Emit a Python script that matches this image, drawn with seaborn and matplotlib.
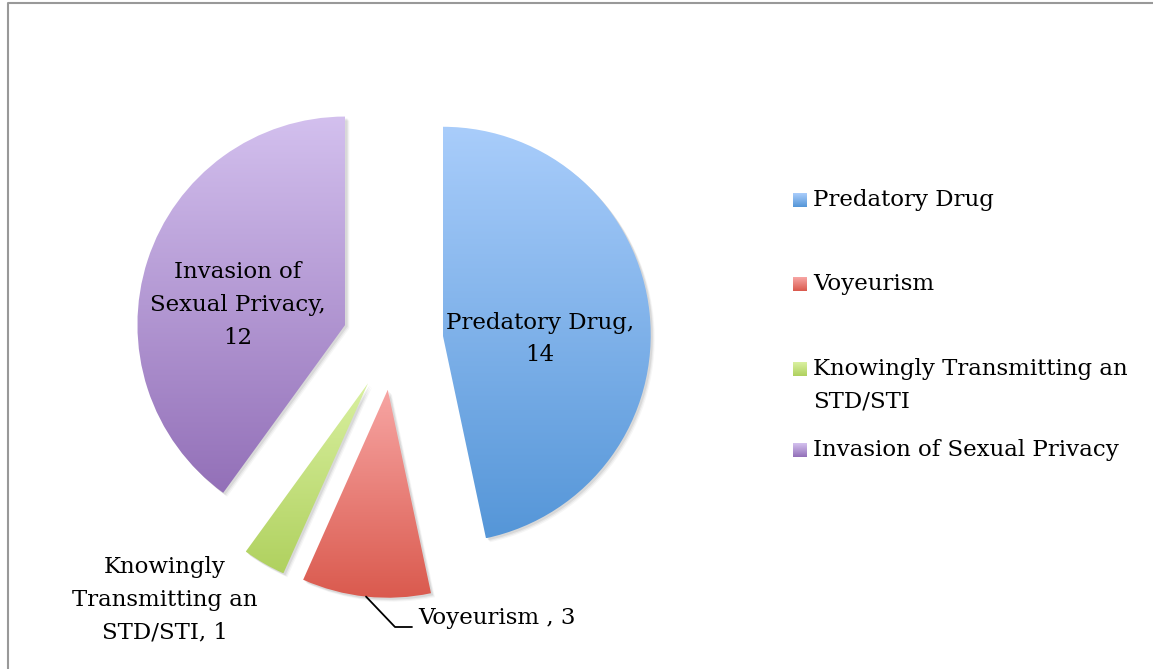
"""Pie chart: sexual offence categories (exploded, gradient slices)."""
import numpy as np
import matplotlib.pyplot as plt
import matplotlib.patches as mpatches
from matplotlib.colors import LinearSegmentedColormap
import seaborn as sns

sns.set_theme(style="white")
plt.rcParams["font.family"] = ["DejaVu Serif"]
plt.rcParams["text.color"] = "black"

# data
categories = ["Predatory Drug", "Voyeurism", "Knowingly Transmitting an\nSTD/STI",
              "Invasion of Sexual Privacy"]
counts = [14, 3, 1, 12]
slice_labels = ["Predatory Drug,\n14", "Voyeurism , 3",
                "Knowingly\nTransmitting an\nSTD/STI, 1", "Invasion of\nSexual Privacy,\n12"]
top_colors = ["#a9cdfb", "#f7a5a3", "#d9f0a0", "#d3c0ee"]
bottom_colors = ["#5596d8", "#da5a4e", "#b0d15f", "#9370b8"]

W, H = 1153, 669
FS = 16.5
LS = 1.62

fig = plt.figure(figsize=(W / 100, H / 100), dpi=100)
ax = fig.add_axes([0, 0, 1, 1])

center = (393, H - 340)
wedges, _ = ax.pie(counts, radius=208, center=center, startangle=90, counterclock=False,
                   explode=[50] * len(counts),
                   wedgeprops=dict(facecolor="none", edgecolor="none"))

for w, c_top, c_bot in zip(wedges, top_colors, bottom_colors):
    # soft shadow
    for off, a in [(4, 0.035), (3, 0.05), (2, 0.07)]:
        sh = mpatches.Wedge((w.center[0] + off, w.center[1] - off), w.r, w.theta1, w.theta2,
                            facecolor="black", edgecolor="none", alpha=a, zorder=1)
        ax.add_patch(sh)
    # vertical gradient clipped to slice
    bb = w.get_path().get_extents()
    cmap = LinearSegmentedColormap.from_list("g", [c_bot, c_top])
    grad = np.linspace(0, 1, 256).reshape(-1, 1)
    im = ax.imshow(grad, cmap=cmap, origin="lower", aspect="auto",
                   extent=(bb.x0, bb.x1, bb.y0, bb.y1), zorder=2, interpolation="bilinear")
    im.set_clip_path(w)

# slice labels
ax.text(540, H - 339, slice_labels[0], ha="center", va="center", fontsize=FS, linespacing=LS, zorder=5)
ax.text(238, H - 305, slice_labels[3], ha="center", va="center", fontsize=FS, linespacing=LS, zorder=5)
ax.text(165, H - 600, slice_labels[2], ha="center", va="center", fontsize=FS, linespacing=LS, zorder=5)
ax.text(418, H - 618, slice_labels[1], ha="left", va="center", fontsize=FS, zorder=5)

# leader line for Voyeurism
wv = wedges[1]
tm = np.deg2rad((wv.theta1 + wv.theta2) / 2)
p0 = (wv.center[0] + wv.r * np.cos(tm), wv.center[1] + wv.r * np.sin(tm))
ax.plot([p0[0], 395, 412], [p0[1], H - 627, H - 627], color="black", lw=1.3, zorder=4)

# legend
leg_y = [200, 284, 369, 450]
for cat, y, c_top, c_bot in zip(categories, leg_y, top_colors, bottom_colors):
    cmap = LinearSegmentedColormap.from_list("g", [c_bot, c_top])
    ax.imshow(np.linspace(0, 1, 32).reshape(-1, 1), cmap=cmap, origin="lower", aspect="auto",
              extent=(793, 807, H - y - 7, H - y + 7), zorder=3)
    if "\n" in cat:
        ax.text(813, H - y + 11, cat, ha="left", va="top", fontsize=FS, linespacing=LS, zorder=5)
    else:
        ax.text(813, H - y, cat, ha="left", va="center", fontsize=FS, zorder=5)

# chart border (top and left visible)
ax.plot([8, 8, W + 5], [-5, H - 3, H - 3], color="#999999", lw=1.5, zorder=6)

ax.set_xlim(0, W)
ax.set_ylim(0, H)
ax.set_aspect("auto")
ax.axis("off")

plt.savefig("out.png", dpi=100)
